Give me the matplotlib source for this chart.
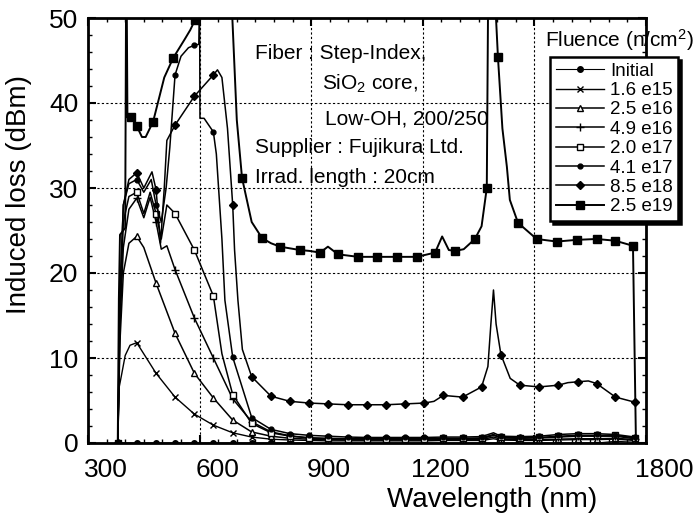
import numpy as np
import matplotlib
matplotlib.use("Agg")
import matplotlib.pyplot as plt
from matplotlib import transforms

plt.rcParams['font.family'] = ['Liberation Sans', 'DejaVu Sans']
plt.rcParams['mathtext.fontset'] = 'custom'
plt.rcParams['mathtext.rm'] = 'Liberation Sans'

# ---- data: induced loss (dB) vs wavelength (nm) for each fluence ----
labels = ["Initial", "1.6 e15", "2.5 e16", "4.9 e16", "2.0 e17", "4.1 e17", "8.5 e18", "2.5 e19"]

# wavelengths at which the plotting symbols sit
marker_wl = [380, 431, 483, 534, 586, 637, 689, 740, 792, 843, 895, 946, 998, 1049, 1101,
             1152, 1204, 1255, 1307, 1358, 1410, 1461, 1513, 1564, 1616, 1667, 1718, 1770]
marker_wl_f7 = [416, 431, 475, 529, 588, 714, 768, 816, 870, 924, 972, 1026, 1077, 1131,
                1184, 1233, 1287, 1340, 1372, 1402, 1456, 1506, 1560, 1614, 1667, 1717, 1765]

wl_init = marker_wl
loss_init = [0, 0, 0, 0, 0, 0, 0, 0, 0, 0, 0, 0, 0, 0, 0,
             0, 0, 0, 0, 0, 0, 0, 0, 0, 0, 0, 0.2, 0.1]

wl_tail = [792, 843, 895, 946, 998, 1049, 1101, 1152, 1204, 1255, 1307, 1358, 1390, 1410,
           1461, 1513, 1564, 1616, 1667, 1718, 1770]

wl_f1 = [380, 384, 391, 400, 413, 431, 483, 534, 586, 637, 689, 740] + wl_tail
loss_f1 = [0, 6.6, 8.2, 10.3, 11.5, 11.8, 8.2, 5.4, 3.4, 2.1, 1.2, 0.7,
           0.45, 0.35, 0.3, 0.25, 0.25, 0.25, 0.25, 0.25, 0.25, 0.3, 0.3, 0.3, 0.5, 0.35,
           0.3, 0.3, 0.35, 0.4, 0.4, 0.45, 0.3]

wl_f2 = [380, 386, 395, 410, 431, 450, 483, 534, 586, 637, 689, 740] + wl_tail
loss_f2 = [0, 12, 20, 23.5, 24.3, 23, 18.8, 12.9, 8.2, 5.3, 2.7, 1.3,
           0.8, 0.55, 0.45, 0.4, 0.35, 0.35, 0.35, 0.35, 0.35, 0.4, 0.4, 0.4, 0.7, 0.45,
           0.4, 0.4, 0.45, 0.5, 0.5, 0.55, 0.4]

wl_f3 = [380, 386, 395, 410, 431, 450, 467, 483, 497, 512, 534, 586, 637, 689, 740] + wl_tail
loss_f3 = [0, 14, 23, 27.5, 28.8, 26.5, 28.9, 26.0, 22.8, 23.2, 20.4, 14.7, 10.0, 5.2, 2.5,
           1.3, 0.85, 0.6, 0.5, 0.45, 0.45, 0.45, 0.45, 0.45, 0.5, 0.5, 0.5, 0.9, 0.6,
           0.55, 0.6, 0.7, 0.8, 0.8, 0.8, 0.5]

wl_f4 = [380, 386, 395, 410, 431, 450, 467, 483, 497, 512, 534, 586, 637, 660, 689, 740] + wl_tail
loss_f4 = [0, 15, 26, 29, 29.5, 27, 29.5, 27, 24, 28, 27, 22.7, 17.3, 10.5, 5.7, 2.3,
           1.2, 0.8, 0.6, 0.55, 0.5, 0.5, 0.5, 0.5, 0.5, 0.55, 0.55, 0.6, 1.0, 0.65,
           0.6, 0.65, 0.8, 0.9, 0.9, 0.9, 0.6]

wl_f5 = [380, 386, 395, 410, 431, 450, 470, 483, 497, 510, 520, 534, 550, 570, 586, 598,
         600, 601, 612, 637, 645, 660, 668, 689, 740] + wl_tail
loss_f5 = [0, 17, 28, 30.5, 31, 29.5, 31, 28, 26, 30, 34.8, 43.3, 45.5, 46.5, 46.8, 46.9,
           52, 38.2, 38.2, 36.6, 34, 24, 16.8, 10.1, 3.0,
           1.6, 1.1, 0.9, 0.8, 0.7, 0.65, 0.65, 0.65, 0.65, 0.7, 0.7, 0.75, 1.2, 0.8,
           0.75, 0.8, 1.0, 1.1, 1.1, 1.0, 0.7]

wl_f6 = [380, 386, 395, 410, 431, 450, 472, 483, 495, 505, 512, 534, 586, 637, 648, 660, 675,
         689, 694, 703, 715, 740, 792, 843, 895, 946, 998, 1049, 1101, 1152, 1204, 1230, 1255,
         1307, 1358, 1375, 1383, 1390, 1397, 1410, 1435, 1461, 1513, 1564, 1590, 1616, 1645,
         1667, 1718, 1770]
loss_f6 = [0, 18, 28, 31, 31.8, 30, 31.9, 29.8, 23.5, 30, 35.6, 37.4, 40.8, 43.3, 43.9, 43, 37,
           28, 22.7, 16.8, 11, 7.8, 5.5, 4.9, 4.7, 4.6, 4.5, 4.5, 4.5, 4.6, 4.7, 4.9, 5.6,
           5.4, 6.6, 9, 14, 18, 14, 10.4, 7.6, 6.8, 6.6, 6.8, 7.1, 7.2, 7.3,
           7.0, 5.4, 4.8]

wl_f7 = [380, 383, 386, 400, 403, 406, 416, 431, 445, 455, 475, 505, 529, 560, 575, 588, 600,
         637, 670, 686, 700, 714, 740, 768, 792, 816, 843, 870, 895, 924, 945, 972, 1026, 1077,
         1131, 1184, 1233, 1252, 1270, 1287, 1310, 1340, 1358, 1372, 1376, 1390, 1402, 1414,
         1426, 1434, 1456, 1506, 1560, 1614, 1667, 1717, 1765, 1773]
loss_f7 = [0, 17, 24.5, 25.3, 60, 38.3, 38.4, 37.3, 36, 36, 37.8, 43, 45.3, 47.5, 48.6, 49.8, 54,
           56, 56, 52, 38, 31.2, 26, 24.1, 23.5, 23.1, 22.9, 22.7, 22.6, 22.4, 23.1, 22.2, 21.9, 21.9,
           21.9, 21.9, 22.4, 24.3, 22.7, 22.6, 22.8, 24, 25.5, 30, 55, 56, 45.4, 37,
           32.5, 28.6, 25.9, 24, 23.7, 23.9, 24, 23.8, 23.2, 0]

series_wl = [wl_init, wl_f1, wl_f2, wl_f3, wl_f4, wl_f5, wl_f6, wl_f7]
series_loss = [loss_init, loss_f1, loss_f2, loss_f3, loss_f4, loss_f5, loss_f6, loss_f7]
series_marks = [marker_wl] * 7 + [marker_wl_f7]

x_ticks = [300, 600, 900, 1200, 1500, 1800]
y_ticks = [0, 10, 20, 30, 40, 50]

# ---- styles ----
styles = [
    dict(marker='o', ms=4, mfc='black', lw=0.8),
    dict(marker='x', ms=5, mfc='black', lw=1.0, mew=1.0),
    dict(marker='^', ms=4, mfc='white', lw=1.1),
    dict(marker='+', ms=6, mfc='black', lw=1.1, mew=1.0),
    dict(marker='s', ms=4.5, mfc='white', lw=1.1),
    dict(marker='o', ms=3.5, mfc='black', lw=1.1),
    dict(marker='D', ms=4, mfc='black', lw=1.1),
    dict(marker='s', ms=5.5, mfc='black', lw=1.4),
]

fig = plt.figure(figsize=(6.97, 5.24), dpi=100)
ax = fig.add_axes([88 / 697, 81 / 524, 558 / 697, 425 / 524])

for wl, loss, mk, lab, st in zip(series_wl, series_loss, series_marks, labels, styles):
    mk = set(mk)
    idx = [i for i, w in enumerate(wl) if w in mk]
    ax.plot(wl, loss, color='black', mec='black', markevery=idx, label=lab, **st)

ax.set_xlim(300, 1800)
ax.set_ylim(0, 50)
ax.set_xticks(x_ticks)
ax.set_yticks(y_ticks)
ax.set_xticks(np.arange(300, 1801, 50), minor=True)
ax.set_yticks(np.arange(0, 51, 2), minor=True)
ax.tick_params(which='both', direction='in', top=True, right=True, labelsize=19)
ax.tick_params(which='major', length=6, width=1.5)
ax.tick_params(which='minor', length=3, width=1.0)
ax.tick_params(axis='x', pad=11)
ax.tick_params(axis='y', pad=7)
shift = transforms.ScaledTranslation(18 / 100, 0, fig.dpi_scale_trans)
for t in ax.get_xticklabels():
    t.set_transform(t.get_transform() + shift)
for sp in ax.spines.values():
    sp.set_linewidth(2)
ax.grid(True, which='major', color='black', linestyle=(0, (2, 2)), linewidth=0.8)

fig.text(492 / 697, 1 - 500 / 524, "Wavelength (nm)", ha='center', va='center', fontsize=20)
fig.text(19 / 697, 1 - 194 / 524, "Induced loss (dBm)", ha='center', va='center',
         rotation=90, fontsize=20)

# annotation block
fs = 15
fig.text(255 / 697, 1 - 59 / 524, "Fiber : Step-Index,", fontsize=fs, va='baseline')
fig.text(322 / 697, 1 - 90 / 524, "SiO$\\mathregular{_2}$ core,", fontsize=fs, va='baseline')
fig.text(325 / 697, 1 - 124 / 524, "Low-OH, 200/250", fontsize=fs, va='baseline')
fig.text(255 / 697, 1 - 153 / 524, "Supplier : Fujikura Ltd.", fontsize=fs, va='baseline')
fig.text(255 / 697, 1 - 183 / 524, "Irrad. length : 20cm", fontsize=fs, va='baseline')

# legend
fig.text(545 / 697, 1 - 40 / 524, "Fluence (n/cm$\\mathregular{^2}$)", fontsize=15,
         va='center', ha='left')
leg = ax.legend(loc='upper left', bbox_to_anchor=(550 / 697, 1 - 57 / 524),
                bbox_transform=fig.transFigure, fontsize=13.5, frameon=True,
                fancybox=False, shadow={'color': 'black', 'alpha': 1.0},
                handlelength=2.6, handletextpad=0.3, labelspacing=0.12,
                borderpad=0.3, borderaxespad=0)
leg.get_frame().set_edgecolor('black')
leg.get_frame().set_linewidth(1.8)
leg.set_zorder(10)

fig.savefig("out.png", dpi=100)
